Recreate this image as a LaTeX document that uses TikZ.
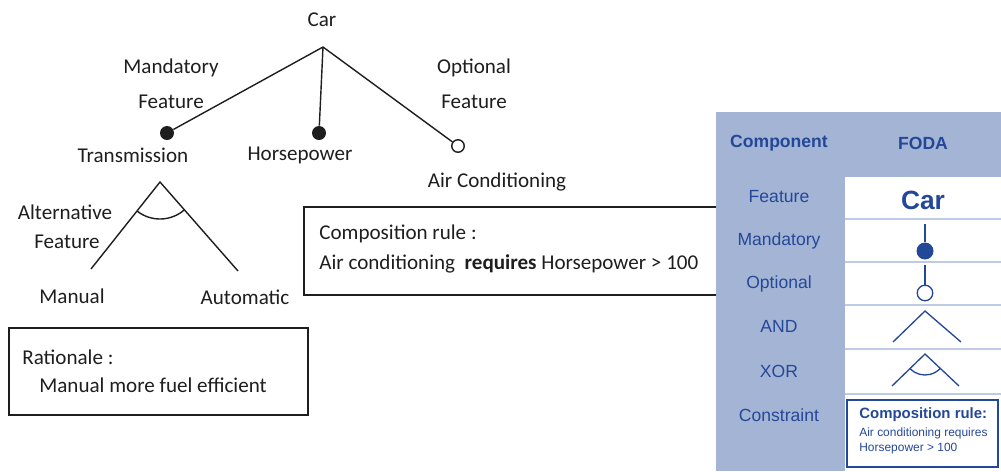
\documentclass[tikz,border=0pt]{standalone}
\usepackage{fontspec}
\setmainfont{Carlito}
\newfontfamily\arialfont{Liberation Sans}
\usetikzlibrary{positioning}
\definecolor{ink}{RGB}{30,30,30}
\definecolor{panelblue}{RGB}{163,180,213}
\definecolor{fodablue}{RGB}{36,72,152}
\definecolor{rowline}{RGB}{190,203,230}

\begin{document}
\begin{tikzpicture}[x=0.02cm, y=-0.02cm,
  lbl/.style={text=ink, font=\fontsize{12}{14}\selectfont, inner sep=0pt},
  link/.style={draw=ink, line width=0.8pt},
  mdot/.style={circle, fill=ink, inner sep=0pt, minimum size=0.28cm},
  odot/.style={circle, draw=ink, fill=white, line width=0.8pt, inner sep=0pt, minimum size=0.25cm},
  note/.style={draw=ink, line width=0.85pt, inner sep=0pt},
  hdr/.style={text=fodablue, font=\arialfont\bfseries\fontsize{10}{12}\selectfont, inner sep=0pt},
  col/.style={text=fodablue, font=\arialfont\fontsize{10}{12}\selectfont, inner sep=0pt},
  fsym/.style={draw=fodablue, line width=0.75pt},
  fdot/.style={circle, fill=fodablue, inner sep=0pt, minimum size=0.34cm},
  fring/.style={circle, draw=fodablue, fill=white, line width=0.75pt, inner sep=0pt, minimum size=0.31cm}
]
\useasboundingbox (0,0) rectangle (1001,471);

% feature tree
\node[lbl] (car) at (322,20) {Car};
\coordinate (root) at (323,47);
\node[mdot] (tdot) at (167,133) {};
\node[mdot] (hdot) at (319,133) {};
\node[odot] (adot) at (458,146) {};
\draw[link] (root) -- (tdot);
\draw[link] (root) -- (hdot);
\draw[link] (root) -- (adot);
\node[lbl] (trans) at (133,155) {Transmission};
\node[lbl] (horse) at (300,155) {Horsepower};
\node[lbl] (aircon) at (497,182) {Air Conditioning};
\node[lbl] (mandA) at (171,68) {Mandatory};
\node[lbl] (mandB) at (171,102) {Feature};
\node[lbl] (optA) at (474,68) {Optional};
\node[lbl] (optB) at (474,102) {Feature};

% alternative group
\coordinate (xor) at (160,182);
\coordinate (xl) at (91,269);
\coordinate (xr) at (238,271);
\draw[link] (xl) -- (xor) -- (xr);
\draw[link] ([shift={(128.4:37)}]xor) arc[start angle=128.4, end angle=48.8, radius=37];
\node[lbl] (altA) at (65,212) {Alternative};
\node[lbl] (altB) at (67,242) {Feature};
\node[lbl] (manual) at (72,296) {Manual};
\node[lbl] (auto) at (245,297) {Automatic};

% notes
\node[note, minimum width=8.32cm, minimum height=1.76cm] (rule) at (512,251) {};
\node[lbl, anchor=west] (ruleA) at (319,234) {Composition rule :};
\node[lbl, anchor=west] (ruleB) at (319,264) {Air conditioning \ \textbf{requires} Horsepower > 100};
\node[note, minimum width=5.98cm, minimum height=1.74cm] (why) at (158.5,371.5) {};
\node[lbl, anchor=west] (whyA) at (22,357) {Rationale :};
\node[lbl, anchor=west] (whyB) at (39,385) {Manual more fuel efficient};

% FODA legend
\fill[panelblue] (716,112) rectangle (1001,471);
\fill[white] (845,177) rectangle (1001,471);
\foreach \y in {219,262,305,349,394}
  \draw[rowline, line width=1pt] (845,\y) -- (1001,\y);
\node[hdr] (comp) at (779,143) {Component};
\node[hdr] (foda) at (923,143) {FODA};
\foreach \t/\y [count=\i] in {Feature/197, Mandatory/241, Optional/284, AND/326, XOR/371, Constraint/415}
  \node[col] (c\i) at (779,\y) {\t};

\node[text=fodablue, font=\arialfont\bfseries\fontsize{15}{17}\selectfont, inner sep=0pt] (fcar) at (923,200) {Car};
\coordinate (mtop) at (925,224);
\node[fdot] (mfill) at (925,251) {};
\draw[fsym] (mtop) -- (mfill);
\coordinate (otop) at (925,265);
\node[fring] (oring) at (925,293) {};
\draw[fsym] (otop) -- (oring);
\coordinate (andtop) at (925,311);
\coordinate (andl) at (893,342);
\coordinate (andr) at (961,342);
\draw[fsym] (andl) -- (andtop) -- (andr);
\coordinate (xtop) at (925,354);
\coordinate (xl2) at (892,386);
\coordinate (xr2) at (959,386);
\draw[fsym] (xl2) -- (xtop) -- (xr2);
\draw[fsym] ([shift={(136:21)}]xtop) arc[start angle=136, end angle=43.3, radius=21];

\node[draw=fodablue, line width=1pt, minimum width=3.02cm, minimum height=1.34cm, inner sep=0pt] (fbox) at (922.5,433.5) {};
\node[anchor=west, text=fodablue, font=\arialfont\bfseries\fontsize{8.5}{10}\selectfont, inner sep=0pt] (fboxA) at (859,415) {Composition rule:};
\node[anchor=west, text=fodablue, font=\arialfont\fontsize{6.8}{8}\selectfont, inner sep=0pt] (fboxB) at (859,433) {Air conditioning requires};
\node[anchor=west, text=fodablue, font=\arialfont\fontsize{6.8}{8}\selectfont, inner sep=0pt] (fboxC) at (859,449) {Horsepower > 100};
\end{tikzpicture}
\end{document}
